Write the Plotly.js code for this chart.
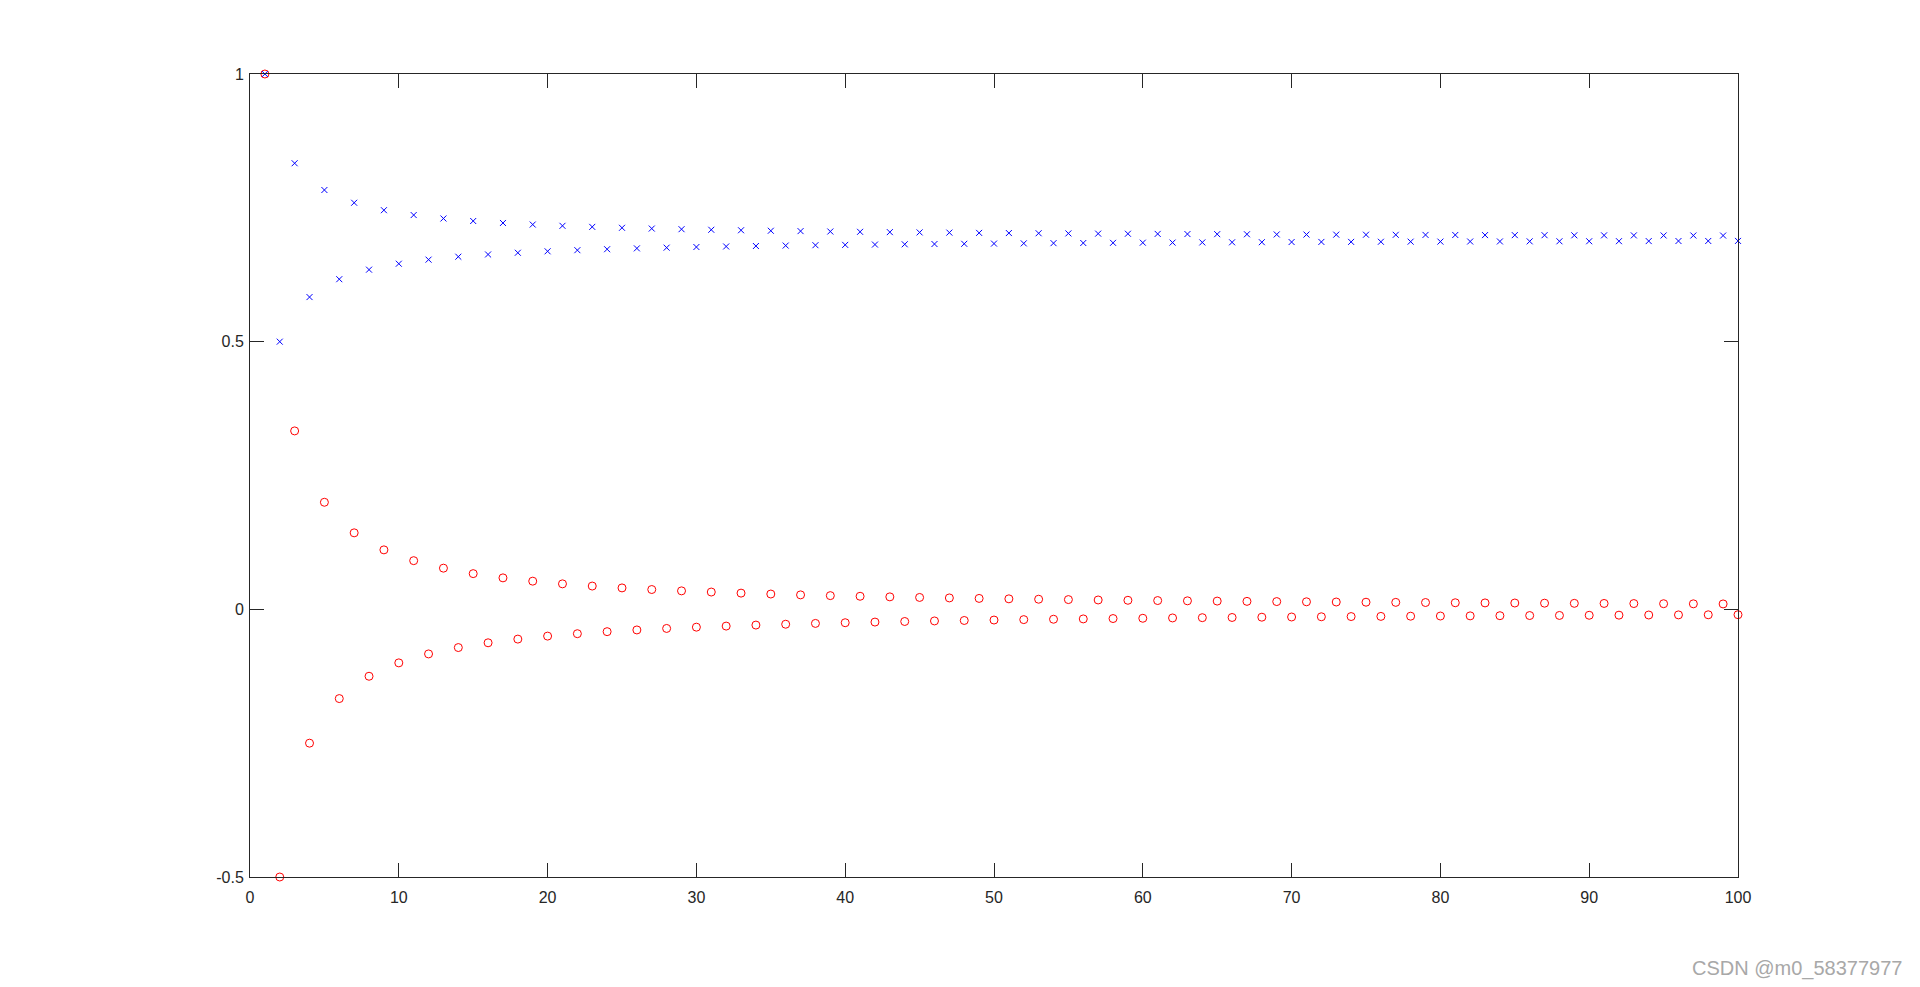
<!DOCTYPE html>
<html>
<head>
<meta charset="utf-8">
<script src="https://cdn.plot.ly/plotly-3.0.1.min.js"></script>
<style>html,body{margin:0;padding:0;background:#fff;}#chart{width:1920px;height:987px;}</style>
</head>
<body>
<div id="chart"></div>
<script>
const nIndex = [1,2,3,4,5,6,7,8,9,10,11,12,13,14,15,16,17,18,19,20,21,22,23,24,25,26,27,28,29,30,31,32,33,34,35,36,37,38,39,40,41,42,43,44,45,46,47,48,49,50,51,52,53,54,55,56,57,58,59,60,61,62,63,64,65,66,67,68,69,70,71,72,73,74,75,76,77,78,79,80,81,82,83,84,85,86,87,88,89,90,91,92,93,94,95,96,97,98,99,100];

const termValues = [1, -0.5, 0.3333, -0.25, 0.2, -0.1667, 0.1429, -0.125, 0.1111, -0.1,
 0.0909, -0.0833, 0.0769, -0.0714, 0.0667, -0.0625, 0.0588, -0.0556, 0.0526, -0.05,
 0.0476, -0.0455, 0.0435, -0.0417, 0.04, -0.0385, 0.037, -0.0357, 0.0345, -0.0333,
 0.0323, -0.0313, 0.0303, -0.0294, 0.0286, -0.0278, 0.027, -0.0263, 0.0256, -0.025,
 0.0244, -0.0238, 0.0233, -0.0227, 0.0222, -0.0217, 0.0213, -0.0208, 0.0204, -0.02,
 0.0196, -0.0192, 0.0189, -0.0185, 0.0182, -0.0179, 0.0175, -0.0172, 0.0169, -0.0167,
 0.0164, -0.0161, 0.0159, -0.0156, 0.0154, -0.0152, 0.0149, -0.0147, 0.0145, -0.0143,
 0.0141, -0.0139, 0.0137, -0.0135, 0.0133, -0.0132, 0.013, -0.0128, 0.0127, -0.0125,
 0.0123, -0.0122, 0.012, -0.0119, 0.0118, -0.0116, 0.0115, -0.0114, 0.0112, -0.0111,
 0.011, -0.0109, 0.0108, -0.0106, 0.0105, -0.0104, 0.0103, -0.0102, 0.0101, -0.01];

const partialSums = [1, 0.5, 0.8333, 0.5833, 0.7833, 0.6167, 0.7595, 0.6345, 0.7456, 0.6456,
 0.7365, 0.6532, 0.7301, 0.6587, 0.7254, 0.6629, 0.7217, 0.6661, 0.7188, 0.6688,
 0.7164, 0.6709, 0.7144, 0.6727, 0.7127, 0.6743, 0.7113, 0.6756, 0.7101, 0.6768,
 0.7090, 0.6778, 0.7081, 0.6787, 0.7072, 0.6795, 0.7065, 0.6802, 0.7058, 0.6808,
 0.7052, 0.6814, 0.7046, 0.6819, 0.7041, 0.6824, 0.7037, 0.6828, 0.7032, 0.6832,
 0.7029, 0.6836, 0.7025, 0.6840, 0.7022, 0.6843, 0.7018, 0.6846, 0.7016, 0.6849,
 0.7013, 0.6851, 0.7010, 0.6854, 0.7008, 0.6856, 0.7006, 0.6858, 0.7003, 0.6861,
 0.7001, 0.6863, 0.6999, 0.6864, 0.6998, 0.6866, 0.6996, 0.6868, 0.6994, 0.6869,
 0.6993, 0.6871, 0.6991, 0.6872, 0.6990, 0.6874, 0.6989, 0.6875, 0.6987, 0.6876,
 0.6986, 0.6877, 0.6985, 0.6879, 0.6984, 0.6880, 0.6983, 0.6881, 0.6982, 0.6882];

const xTicks = [0,10,20,30,40,50,60,70,80,90,100];
const yTicks = [-0.5, 0, 0.5, 1];
const yTickLabels = ['-0.5', '0', '0.5', '1'];
const watermark = 'CSDN @m0_58377977';

const axisColor = '#262626';
const fontFam = 'Liberation Sans, Arial, Helvetica, sans-serif';

const traces = [
  {
    x: nIndex, y: termValues, type: 'scatter', mode: 'markers', cliponaxis: false,
    marker: {symbol: 'circle-open', size: 8, color: '#ff0000', line: {width: 1, color: '#ff0000'}},
    hoverinfo: 'x+y'
  },
  {
    x: nIndex, y: partialSums, type: 'scatter', mode: 'markers', cliponaxis: false,
    marker: {symbol: 'x-thin-open', size: 6, color: '#0000ff', line: {width: 1, color: '#0000ff'}},
    hoverinfo: 'x+y'
  }
];

const layout = {
  width: 1920, height: 987,
  paper_bgcolor: '#ffffff', plot_bgcolor: '#ffffff',
  showlegend: false,
  margin: {l: 250, r: 182, t: 74, b: 110, pad: 0},
  font: {family: fontFam, size: 16, color: axisColor},
  xaxis: {
    range: [0, 100], tickvals: xTicks, ticktext: xTicks.map(String),
    ticks: 'inside', ticklen: 14, tickwidth: 1, tickcolor: axisColor,
    showline: true, linecolor: axisColor, linewidth: 1, mirror: 'ticks',
    showgrid: false, zeroline: false, ticklabelstandoff: 6,
    tickfont: {family: fontFam, size: 16, color: axisColor}
  },
  yaxis: {
    range: [-0.5, 1], tickvals: yTicks, ticktext: yTickLabels,
    ticks: 'inside', ticklen: 14, tickwidth: 1, tickcolor: axisColor,
    showline: true, linecolor: axisColor, linewidth: 1, mirror: 'ticks',
    showgrid: false, zeroline: false, ticklabelstandoff: 2,
    tickfont: {family: fontFam, size: 16, color: axisColor}
  },
  annotations: [{
    text: watermark, xref: 'paper', yref: 'paper',
    x: (1904 - 250) / 1488, y: -(968 - 877) / 803,
    xanchor: 'right', yanchor: 'middle', showarrow: false,
    font: {family: fontFam, size: 20, color: '#a8a8a8'}
  }]
};

Plotly.newPlot('chart', traces, layout, {displayModeBar: false});
</script>
</body>
</html>
